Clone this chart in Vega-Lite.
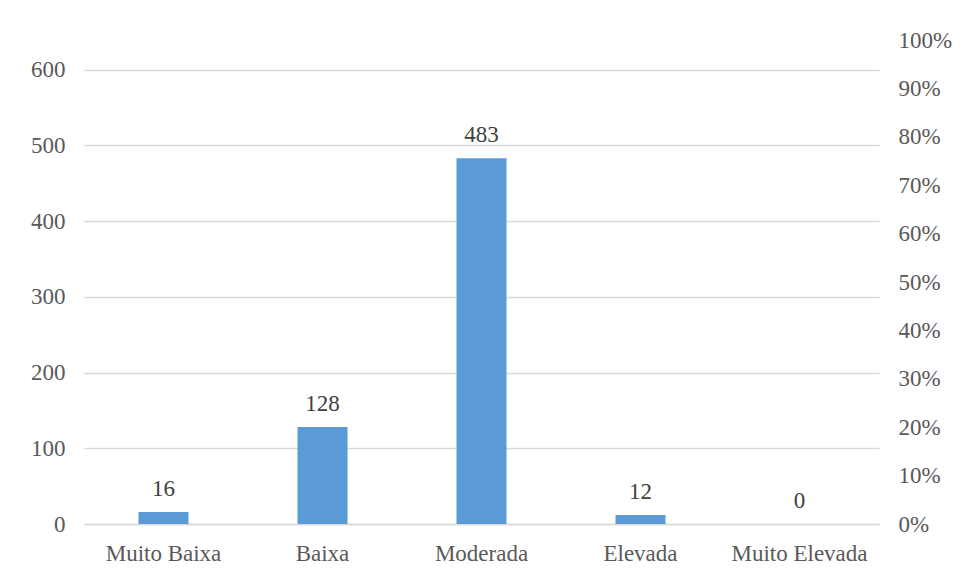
{
  "$schema": "https://vega.github.io/schema/vega-lite/v6.json",
  "autosize": {"type": "none"},
  "padding": {"left": 84, "top": 40, "right": 87, "bottom": 53},
  "width": 795,
  "height": 484,
  "background": "white",
  "config": {
    "font": "Liberation Serif",
    "view": {"stroke": null},
    "axis": {"labelFont": "Liberation Serif", "labelFontSize": 23, "labelColor": "#595959", "domain": false, "ticks": false, "title": null}
  },
  "data": {
    "values": [
      {"categoria": "Muito Baixa", "n": 16, "pct": 0.025},
      {"categoria": "Baixa", "n": 128, "pct": 0.2},
      {"categoria": "Moderada", "n": 483, "pct": 0.756},
      {"categoria": "Elevada", "n": 12, "pct": 0.019},
      {"categoria": "Muito Elevada", "n": 0, "pct": 0}
    ]
  },
  "encoding": {
    "x": {
      "field": "categoria",
      "type": "nominal",
      "sort": null,
      "scale": {"paddingInner": 0, "paddingOuter": 0},
      "axis": {"labelAngle": 0, "labelPadding": 18, "domain": true, "domainColor": "#d9d9d9", "domainWidth": 1.5}
    }
  },
  "layer": [
    {
      "mark": {"type": "bar", "width": 50, "color": "#5B9BD5"},
      "encoding": {
        "y": {
          "field": "n",
          "type": "quantitative",
          "scale": {"domain": [0, 639], "nice": false},
          "axis": {"values": [0, 100, 200, 300, 400, 500, 600], "grid": true, "gridColor": "#d9d9d9", "gridWidth": 1.5, "labelPadding": 19}
        }
      }
    },
    {
      "mark": {"type": "text", "fontSize": 23, "color": "#404040", "baseline": "alphabetic", "dy": -16, "font": "Liberation Serif"},
      "encoding": {
        "y": {"field": "n", "type": "quantitative", "scale": {"domain": [0, 639], "nice": false}, "axis": null},
        "text": {"field": "n", "type": "quantitative"}
      }
    },
    {
      "mark": {"type": "point", "opacity": 0},
      "encoding": {
        "y": {
          "field": "pct",
          "type": "quantitative",
          "scale": {"domain": [0, 1], "nice": false},
          "axis": {"orient": "right", "values": [0, 0.1, 0.2, 0.3, 0.4, 0.5, 0.6, 0.7, 0.8, 0.9, 1], "format": ".0%", "grid": false, "labelPadding": 19}
        }
      }
    }
  ],
  "resolve": {"scale": {"y": "independent"}}
}
